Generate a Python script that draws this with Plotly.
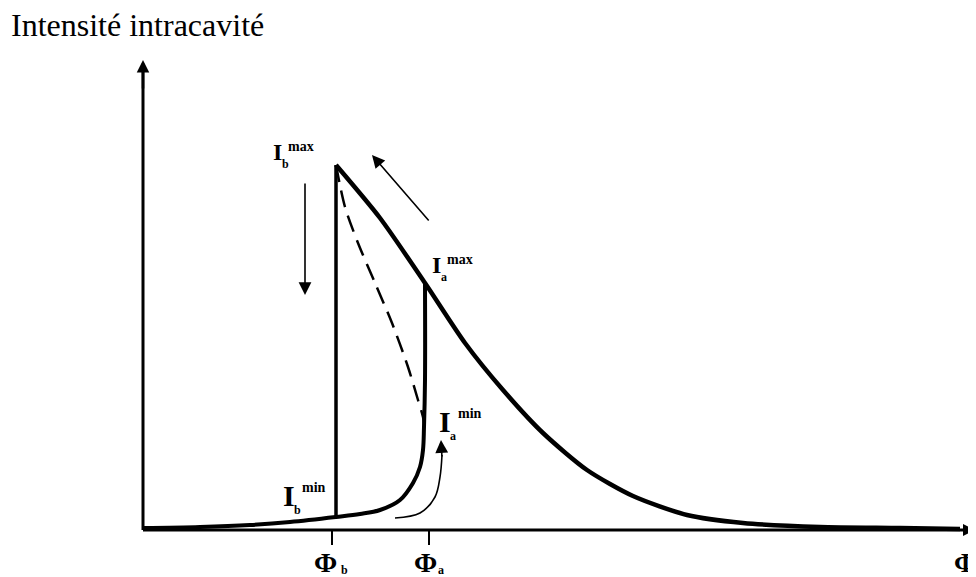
import plotly.graph_objects as go

# courbe de bistabilité (unités arbitraires)
phi_lower = [0, 57, 107, 147, 193, 217, 237, 257, 270, 277, 280, 281, 282, 282]
int_lower = [2, 3, 5, 8, 13, 16, 20, 30, 47, 63, 80, 103, 150, 247]

phi_upper = [193, 237, 282, 322, 360, 400, 444, 490, 544, 600, 677, 757, 817]
int_upper = [365, 312, 247, 187, 140, 97, 60, 34, 15, 7, 3, 2, 1]

phi_unstable = [193, 202, 215, 232, 249, 265, 275, 280, 282]
int_unstable = [365, 323, 287, 247, 207, 163, 130, 113, 98]

phi_b = 193
phi_a = 282
int_b_min = 13
int_b_max = 365

phi_sweep = [252, 277, 292, 297, 299]
int_sweep = [12, 17, 33, 53, 75]

SERIF = "Liberation Serif"
INK = "black"

fig = go.Figure()

# axes avec flèches
fig.add_trace(go.Scatter(x=[0, 0], y=[0, 466], mode="lines",
                         line=dict(color=INK, width=3), hoverinfo="skip"))
fig.add_trace(go.Scatter(x=[0, 826], y=[0, 0], mode="lines",
                         line=dict(color=INK, width=3), hoverinfo="skip"))

# graduations Φb, Φa
for p in [phi_b - 4, phi_a + 4]:
    fig.add_trace(go.Scatter(x=[p, p], y=[0, -15], mode="lines",
                             line=dict(color=INK, width=2), hoverinfo="skip"))

# branche basse + saut vers le haut
fig.add_trace(go.Scatter(x=phi_lower, y=int_lower, mode="lines",
                         line=dict(color=INK, width=4, shape="spline", smoothing=1),
                         hoverinfo="skip"))
# branche haute
fig.add_trace(go.Scatter(x=phi_upper, y=int_upper, mode="lines",
                         line=dict(color=INK, width=4.5, shape="spline", smoothing=0.7),
                         hoverinfo="skip"))
# saut vers le bas à Φb
fig.add_trace(go.Scatter(x=[phi_b, phi_b], y=[int_b_min, int_b_max], mode="lines",
                         line=dict(color=INK, width=3.5), hoverinfo="skip"))
# branche instable
fig.add_trace(go.Scatter(x=phi_unstable, y=int_unstable, mode="lines",
                         line=dict(color=INK, width=2.5, dash="17px,9px",
                                   shape="spline", smoothing=0.8),
                         hoverinfo="skip"))
# balayage
fig.add_trace(go.Scatter(x=phi_sweep, y=int_sweep, mode="lines",
                         line=dict(color=INK, width=1.6, shape="spline"), hoverinfo="skip"))

annotations = []


def arrow(x, y, ax, ay, width=1.6, size=1.6):
    annotations.append(dict(x=x, y=y, ax=ax, ay=ay, xref="x", yref="y",
                            axref="x", ayref="y", text="", showarrow=True,
                            arrowhead=2, arrowsize=size, arrowwidth=width,
                            arrowcolor=INK))


arrow(0, 470, 0, 440, width=2.5, size=1)
arrow(832, 0, 800, 0, width=2, size=1.2)
arrow(162, 235, 162, 348)
arrow(229, 375, 287, 308)
arrow(298, 90, 299, 72)


def text(x, y, s, size, anchor="left"):
    annotations.append(dict(x=x, y=y, xref="x", yref="y", text=s, showarrow=False,
                            xanchor=anchor, yanchor="middle",
                            font=dict(family=SERIF, size=size, color=INK)))


def label(x, y, sub, sup, size):
    text(x, y, "<b>I</b>", size)
    text(x + size * 0.38, y - size * 0.5, "<b>%s</b>" % sub, 12)
    text(x + size * 0.62, y + size * 0.25, "<b>%s</b>" % sup, 14)


label(128, 378, "b", "max", 24)
label(287, 265, "a", "max", 24)
label(294, 109, "a", "min", 30)
label(138, 35, "b", "min", 30)

text(182, -32, "<b>Φ</b>", 28, "center")
text(196, -40, "<b>b</b>", 12)
text(282, -32, "<b>Φ</b>", 28, "center")
text(293, -40, "<b>a</b>", 12)
text(822, -32, "<b>Φ</b>", 28, "center")

annotations.append(dict(x=-134, y=505, xref="x", yref="y", text="Intensité intracavité",
                        showarrow=False, xanchor="left", yanchor="middle",
                        font=dict(family=SERIF, size=32, color=INK)))

# la page décale la figure de 8 px (marge du body) : on réduit d'autant
fig.update_layout(
    width=968, height=569,
    margin=dict(l=0, r=0, t=0, b=0),
    paper_bgcolor="white", plot_bgcolor="white",
    showlegend=False,
    xaxis=dict(range=[-135, 833], visible=False, fixedrange=True),
    yaxis=dict(range=[-47, 522], visible=False, fixedrange=True),
    annotations=annotations,
)

fig.write_html("out.html")
